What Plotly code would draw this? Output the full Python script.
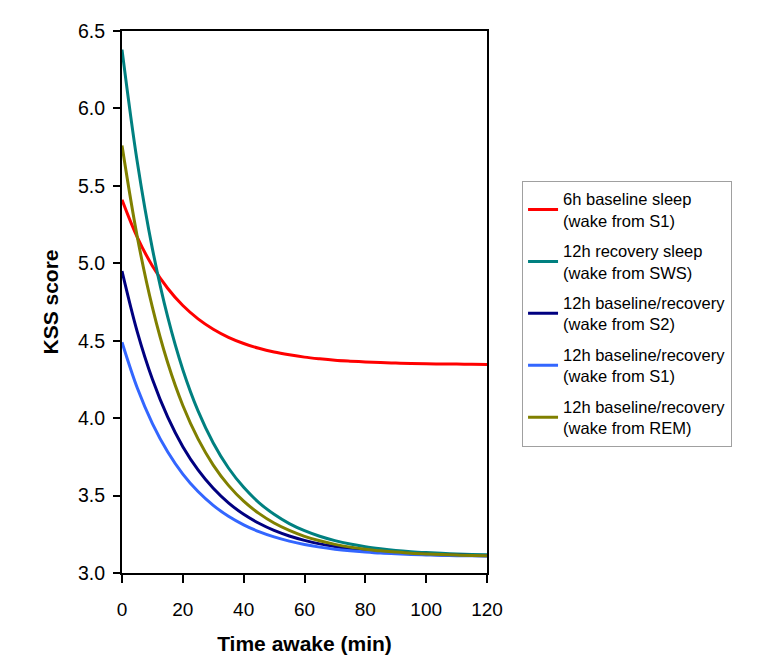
import plotly.graph_objects as go

time_min = [0, 5, 10, 15, 20, 25, 30, 35, 40, 45, 50, 55, 60, 65, 70, 75, 80, 85, 90, 95, 100, 105, 110, 115, 120]

baseline6h_s1 = [5.41, 5.169, 4.983, 4.839, 4.727, 4.641, 4.574, 4.522, 4.482, 4.451, 4.427, 4.409, 4.394,
                 4.383, 4.374, 4.368, 4.363, 4.359, 4.356, 4.353, 4.351, 4.350, 4.349, 4.348, 4.347]
recovery12h_sws = [6.38, 5.657, 5.093, 4.655, 4.313, 4.047, 3.840, 3.678, 3.553, 3.455, 3.379, 3.319, 3.273,
                   3.237, 3.209, 3.187, 3.170, 3.157, 3.146, 3.138, 3.132, 3.127, 3.123, 3.120, 3.118]
base_rec12h_s2 = [4.95, 4.559, 4.251, 4.008, 3.816, 3.666, 3.547, 3.453, 3.379, 3.321, 3.275, 3.239, 3.211,
                  3.188, 3.171, 3.157, 3.146, 3.137, 3.130, 3.125, 3.121, 3.117, 3.115, 3.113, 3.111]
base_rec12h_s1 = [4.49, 4.196, 3.965, 3.783, 3.639, 3.526, 3.437, 3.366, 3.311, 3.267, 3.233, 3.206, 3.184,
                  3.167, 3.154, 3.144, 3.136, 3.129, 3.124, 3.120, 3.117, 3.114, 3.112, 3.111, 3.110]
base_rec12h_rem = [5.76, 5.173, 4.715, 4.359, 4.082, 3.866, 3.697, 3.566, 3.464, 3.385, 3.323, 3.275, 3.237,
                   3.208, 3.185, 3.167, 3.154, 3.143, 3.135, 3.128, 3.123, 3.119, 3.116, 3.113, 3.111]

series_names = [
    "6h baseline sleep<br>(wake from S1)",
    "12h recovery sleep<br>(wake from SWS)",
    "12h baseline/recovery<br>(wake from S2)",
    "12h baseline/recovery<br>(wake from S1)",
    "12h baseline/recovery<br>(wake from REM)",
]
series_values = [baseline6h_s1, recovery12h_sws, base_rec12h_s2, base_rec12h_s1, base_rec12h_rem]
series_colors = ["#FF0000", "#008080", "#000080", "#3366FF", "#808000"]

fig = go.Figure()
for i, (name, vals, col) in enumerate(zip(series_names, series_values, series_colors)):
    fig.add_trace(go.Scatter(
        x=time_min, y=vals, mode="lines", name=name,
        line=dict(color=col, width=3, shape="spline", smoothing=1.0),
        legendgroup=f"g{i}",
    ))

font_family = "Liberation Sans, Arial, sans-serif"
fig.update_layout(
    width=749, height=658,
    margin=dict(l=114, r=270, t=13, b=93),
    paper_bgcolor="white", plot_bgcolor="white",
    font=dict(family=font_family, size=19, color="black"),
    showlegend=True,
    legend=dict(
        x=1.096, y=0.724, xanchor="left", yanchor="top",
        bordercolor="#A0A0A0", borderwidth=1,
        font=dict(size=16.5, family=font_family, color="black"),
        tracegroupgap=6,
        bgcolor="white",
    ),
    xaxis=dict(
        range=[0, 120], dtick=20, tick0=0,
        showline=True, linecolor="black", linewidth=2, mirror=True,
        ticks="outside", ticklen=8, tickwidth=2, tickcolor="black",
        showgrid=False, zeroline=False,
        ticklabelstandoff=10,
        title=dict(text="<b>Time awake (min)</b>", font=dict(size=21), standoff=18),
        tickfont=dict(size=19),
    ),
    yaxis=dict(
        range=[3.0, 6.5], dtick=0.5, tick0=3.0, tickformat=".1f",
        showline=True, linecolor="black", linewidth=2, mirror=True,
        ticks="outside", ticklen=7, tickwidth=2, tickcolor="black",
        showgrid=False, zeroline=False,
        ticklabelstandoff=4,
        title=dict(text="<b>KSS score</b>", font=dict(size=21), standoff=14),
        tickfont=dict(size=19.5),
    ),
)

fig.write_html("out.html")
